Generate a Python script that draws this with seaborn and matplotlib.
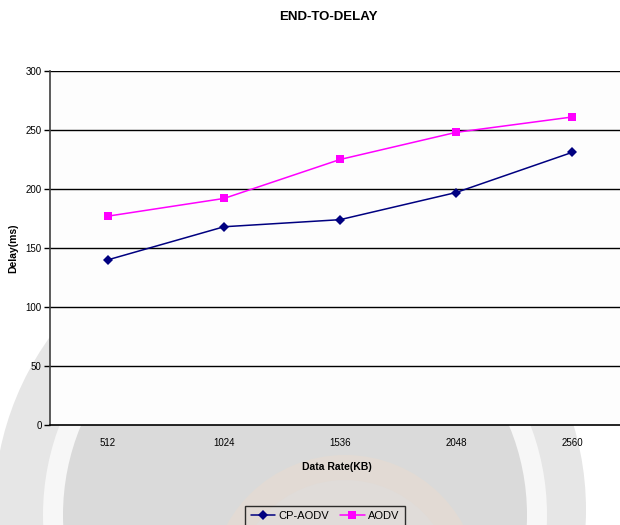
import matplotlib
matplotlib.use("Agg")
import matplotlib.pyplot as plt
from matplotlib.patches import Circle
from matplotlib.lines import Line2D
from matplotlib.transforms import IdentityTransform
import numpy as np
import pandas as pd
import seaborn as sns

# Data rates (KB) and end-to-end delay (ms) for each protocol
data_rates = ["512", "1024", "1536", "2048", "2560"]
cp_aodv = [140, 168, 174, 197, 231]
aodv = [177, 192, 225, 248, 261]
protocols = ["CP-AODV", "AODV"]
colors = {"CP-AODV": "#000080", "AODV": "#FF00FF"}
y_ticks = [0, 50, 100, 150, 200, 250, 300]

df = pd.DataFrame({
    "rate": data_rates * 2,
    "delay": cp_aodv + aodv,
    "protocol": [protocols[0]] * len(data_rates) + [protocols[1]] * len(data_rates),
})

sns.set_style("white")
plt.rcParams["font.family"] = ["Liberation Sans", "DejaVu Sans"]
plt.rcParams["text.color"] = "black"
plt.rcParams["axes.labelcolor"] = "black"
plt.rcParams["xtick.color"] = "black"
plt.rcParams["ytick.color"] = "black"

W, H = 620, 525
fig = plt.figure(figsize=(W / 100, H / 100), dpi=100)
fig.patch.set_facecolor("white")


def px_circle(cx, cy, r, color, z):
    """Filled circle given in pixel coordinates from the top-left corner."""
    c = Circle((cx, H - cy), r, transform=IdentityTransform(),
               facecolor=color, edgecolor="none", zorder=z)
    fig.patches.append(c)


# faint circular emblem behind the chart
px_circle(290, 510, 296, "#E6E6E6", -10)
px_circle(295, 515, 252, "#F7F7F7", -9)
px_circle(295, 515, 232, "#DADADA", -8)
px_circle(345, 590, 135, "#E2DAD4", -7)
px_circle(345, 590, 110, "#E0DCD9", -6)

ax = fig.add_axes([50 / W, (H - 425) / H, 580 / W, 354 / H])
ax.set_facecolor("#FDFDFD")
ax.set_zorder(1)

sns.pointplot(data=df, x="rate", y="delay", hue="protocol", order=data_rates,
              hue_order=protocols, palette=colors, markers=["D", "s"],
              linestyles=["-", "-"], errorbar=None, ax=ax,
              markersize=4.8, linewidth=1.1)
for line in ax.lines:
    if line.get_marker() == "s":
        line.set_markersize(5.5)
    line.set_markeredgewidth(0)
if ax.get_legend() is not None:
    ax.get_legend().remove()

ax.set_xlim(-0.5, 4.5)
ax.set_ylim(0, 300)
ax.set_yticks(y_ticks)
ax.set_yticklabels([str(t) for t in y_ticks])
for t in y_ticks[1:]:
    ax.axhline(t, color="black", lw=1.0, zorder=0.5)

ax.set_xticks(range(len(data_rates)))
ax.set_xticklabels(data_rates)
ax.set_xticks(np.arange(-0.5, len(data_rates), 1.0), minor=True)
ax.tick_params(axis="x", which="major", length=0, pad=9, labelsize=7, colors="black")
ax.tick_params(axis="x", which="minor", length=4, width=1, color="black", direction="out")
ax.tick_params(axis="y", length=4, width=1, color="black", direction="out", pad=2,
               labelsize=7, left=True, labelcolor="black")

for s in ["top", "right"]:
    ax.spines[s].set_visible(False)
ax.spines["left"].set_color("#404040")
ax.spines["left"].set_linewidth(1.2)
ax.spines["bottom"].set_color("black")
ax.spines["bottom"].set_linewidth(1.2)

ax.set_xlabel("Data Rate(KB)", fontsize=7.5, fontweight="bold", color="black")
ax.xaxis.set_label_coords((337 - 50) / 580, -(462 - 425) / 354)
ax.set_ylabel("Delay(ms)", fontsize=7.5, fontweight="bold", color="black")
ax.yaxis.set_label_coords(-(50 - 18) / 580, 0.5)

fig.text(328 / W, 1 - 17 / H, "END-TO-DELAY", ha="center", va="center",
         fontsize=9.5, fontweight="bold", color="black")

handles = [Line2D([], [], color=colors[p], marker=m, markersize=ms, lw=1.1,
                  markeredgewidth=0)
           for p, m, ms in zip(protocols, ["D", "s"], [4.8, 5.5])]
leg = fig.legend(handles, protocols, loc="upper center",
                 bbox_to_anchor=(325 / W, 1 - 500 / H), ncol=2, frameon=True,
                 fancybox=False, edgecolor="black", fontsize=8,
                 handlelength=2.2, handletextpad=0.3, columnspacing=1.0,
                 borderpad=0.5, labelcolor="black")
leg.get_frame().set_linewidth(1.0)
leg.get_frame().set_facecolor("none")

fig.savefig("out.png", dpi=100)
